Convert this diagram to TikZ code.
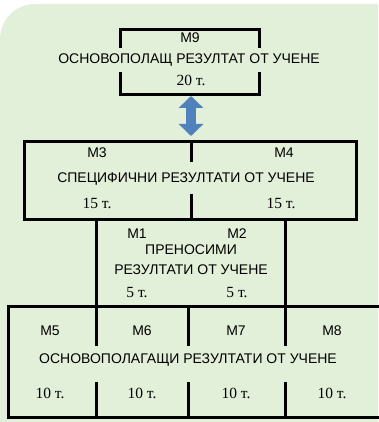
\documentclass[tikz,border=0pt]{standalone}
\usepackage{fontspec}
\setmainfont{Liberation Sans}
\newfontfamily\ptsfont{Liberation Serif}
\usetikzlibrary{arrows.meta}

\definecolor{bggreen}{RGB}{226,239,217}
\definecolor{arrblue}{RGB}{79,129,189}

\begin{document}
\begin{tikzpicture}[x=1pt,y=-1pt,
    box/.style={line width=3pt,line cap=rect},
    lbl/.style={inner sep=0pt,font=\fontsize{14}{16}\selectfont},
    pts/.style={inner sep=0pt,font=\ptsfont\fontsize{15.5}{17}\selectfont},
    dblarr/.style={line width=10pt,color=arrblue,
      {Triangle[length=12pt,width=24pt]}-{Triangle[length=12pt,width=24pt]}}]
  \useasboundingbox (0,0) rectangle (378,422);
  \fill[bggreen] (0,422) -- (0,39) arc (180:270:35) -- (378,4) -- (378,422) -- cycle; % background

  % M9 box
  \draw[box] (120,47) |- (259,30) -- (259,47); % top bracket
  \draw[box] (120,74) |- (259,95) -- (259,74); % bottom bracket
  \node[lbl] (m9) at (190,38) {M9};
  \node[lbl] (m9txt) at (189,60) {ОСНОВОПОЛАЩ РЕЗУЛТАТ ОТ УЧЕНЕ};
  \node[pts] (m9pts) at (191,80) {20 т.};

  % M3 and M4 box
  \draw[box] (24,142) rectangle (356,219);
  \draw[box] (191,142) -- (191,160); % divider top
  \draw[box] (191,195) -- (191,219); % divider bottom
  \node[lbl] (m3) at (97,153) {M3};
  \node[lbl] (m4) at (284,153) {M4};
  \node[lbl] (m34txt) at (186,179) {СПЕЦИФИЧНИ РЕЗУЛТАТИ ОТ УЧЕНЕ};
  \node[pts] (m3pts) at (97,203) {15 т.};
  \node[pts] (m4pts) at (281,203) {15 т.};

  % arrow between M9 and M3/M4
  \coordinate (m9bot) at (191,96);
  \coordinate (m34top) at (191,136);
  \draw[dblarr] (m9bot) -- (m34top);

  % M1 and M2 box
  \draw[box] (96,219) -- (96,306); % left side
  \draw[box] (285,219) -- (285,306); % right side
  \node[lbl] (m1) at (137,234) {M1};
  \node[lbl] (m2) at (237,234) {M2};
  \node[lbl] (m12txta) at (191,250) {ПРЕНОСИМИ};
  \node[lbl] (m12txtb) at (191,270) {РЕЗУЛТАТИ ОТ УЧЕНЕ};
  \node[pts] (m1pts) at (137,293) {5 т.};
  \node[pts] (m2pts) at (237,293) {5 т.};

  % M5 to M8 box
  \draw[box] (380,306) -- (8,306) -- (8,417) -- (380,417);
  \foreach \x in {96,188,285} {
    \draw[box] (\x,306) -- (\x,344); % divider top
    \draw[box] (\x,383) -- (\x,417); % divider bottom
  }
  \node[lbl] (m5) at (50,331) {M5};
  \node[lbl] (m6) at (142,331) {M6};
  \node[lbl] (m7) at (236,331) {M7};
  \node[lbl] (m8) at (332,331) {M8};
  \node[lbl] (m58txt) at (188,360) {ОСНОВОПОЛАГАЩИ РЕЗУЛТАТИ ОТ УЧЕНЕ};
  \node[pts] (m5pts) at (50,393) {10 т.};
  \node[pts] (m6pts) at (142,393) {10 т.};
  \node[pts] (m7pts) at (236,393) {10 т.};
  \node[pts] (m8pts) at (332,393) {10 т.};
\end{tikzpicture}
\end{document}
